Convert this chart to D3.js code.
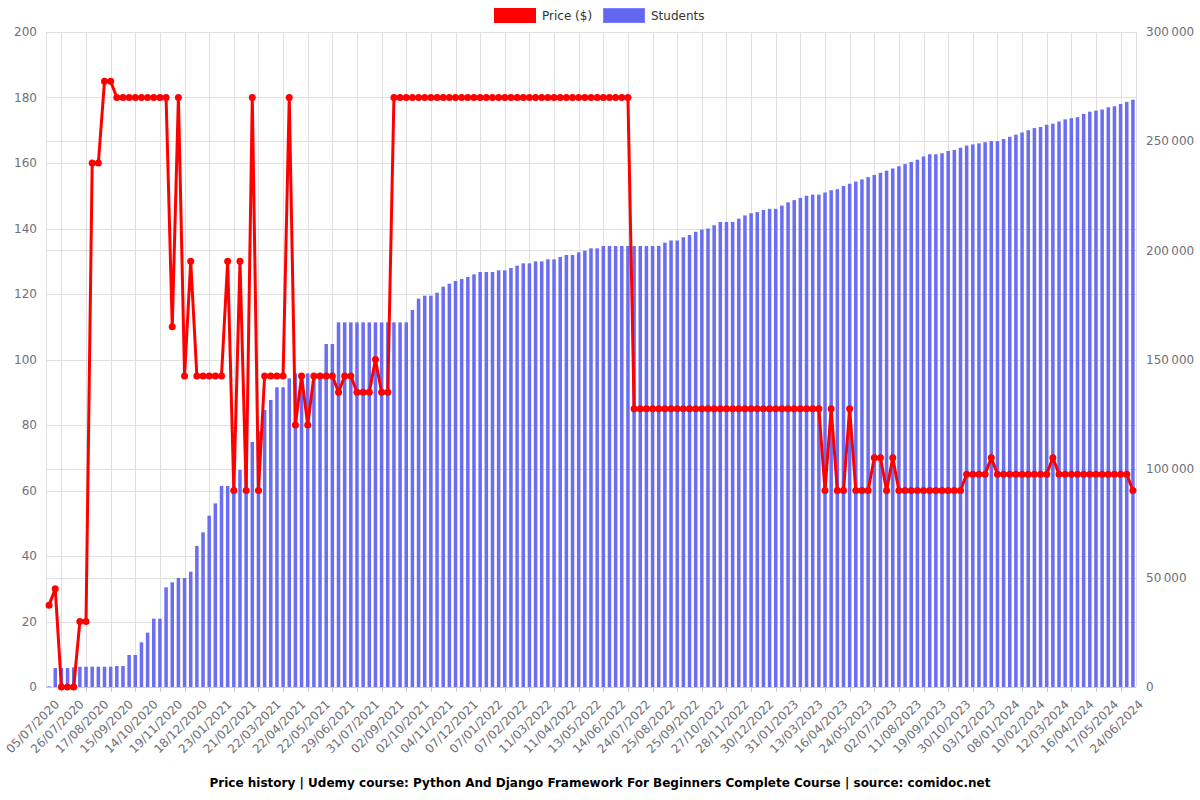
<!DOCTYPE html>
<html>
<head>
<meta charset="utf-8">
<script src="https://cdn.jsdelivr.net/npm/d3@7"></script>
<style>
  body { margin: 0; background: #fff; }
  svg { font-family: "DejaVu Sans", sans-serif; }
</style>
</head>
<body>
<div class="container"></div>
<script>
// one label every 4 categories (177 categories in total)
const tickLabels = [
  '05/07/2020', '26/07/2020', '17/08/2020', '15/09/2020', '14/10/2020', '19/11/2020',
  '18/12/2020', '23/01/2021', '21/02/2021', '22/03/2021', '22/04/2021', '22/05/2021',
  '29/06/2021', '31/07/2021', '02/09/2021', '02/10/2021', '04/11/2021', '07/12/2021',
  '07/01/2022', '07/02/2022', '11/03/2022', '11/04/2022', '13/05/2022', '14/06/2022',
  '24/07/2022', '25/08/2022', '25/09/2022', '27/10/2022', '28/11/2022', '30/12/2022',
  '31/01/2023', '13/03/2023', '16/04/2023', '24/05/2023', '02/07/2023', '11/08/2023',
  '19/09/2023', '30/10/2023', '03/12/2023', '08/01/2024', '10/02/2024', '12/03/2024',
  '16/04/2024', '17/05/2024', '24/06/2024'
];

const price = [
  25, 30, 0, 0, 0, 20, 20, 160, 160, 185,
  185, 180, 180, 180, 180, 180, 180, 180, 180, 180,
  110, 180, 95, 130, 95, 95, 95, 95, 95, 130,
  60, 130, 60, 180, 60, 95, 95, 95, 95, 180,
  80, 95, 80, 95, 95, 95, 95, 90, 95, 95,
  90, 90, 90, 100, 90, 90, 180, 180, 180, 180,
  180, 180, 180, 180, 180, 180, 180, 180, 180, 180,
  180, 180, 180, 180, 180, 180, 180, 180, 180, 180,
  180, 180, 180, 180, 180, 180, 180, 180, 180, 180,
  180, 180, 180, 180, 180, 85, 85, 85, 85, 85,
  85, 85, 85, 85, 85, 85, 85, 85, 85, 85,
  85, 85, 85, 85, 85, 85, 85, 85, 85, 85,
  85, 85, 85, 85, 85, 85, 60, 85, 60, 60,
  85, 60, 60, 60, 70, 70, 60, 70, 60, 60,
  60, 60, 60, 60, 60, 60, 60, 60, 60, 65,
  65, 65, 65, 70, 65, 65, 65, 65, 65, 65,
  65, 65, 65, 70, 65, 65, 65, 65, 65, 65,
  65, 65, 65, 65, 65, 65, 60
];

const students = [
  300, 8700, 8700, 8700, 9000, 9300, 9300, 9300, 9300, 9300,
  9300, 9600, 9600, 14650, 14650, 20450, 24900, 31300, 31300, 45650,
  47950, 49900, 49900, 52830, 64600, 70840, 78470, 84100, 92060, 92060,
  92060, 99390, 99390, 112200, 117100, 126900, 131450, 137250, 137250, 141370,
  143660, 143660, 143660, 143660, 143660, 157100, 157100, 167000, 167000, 167000,
  167000, 167000, 167000, 167000, 167000, 167000, 167000, 167000, 167000, 172670,
  177860, 179230, 179230, 180600, 183350, 184720, 185950, 186860, 187780, 189010,
  190070, 190070, 190070, 190830, 190830, 191900, 192970, 194030, 194030, 194950,
  194950, 195870, 195870, 196940, 197860, 197860, 199080, 199840, 200910, 200910,
  201980, 201980, 201980, 201980, 201980, 201980, 201980, 201980, 202000, 202000,
  203500, 204500, 204500, 206000, 207000, 208500, 209500, 210000, 211500, 213000,
  213000, 213000, 214500, 216000, 217000, 217500, 218500, 219000, 219000, 220500,
  222000, 223000, 224000, 225000, 225500, 225500, 226500, 227500, 228000, 229500,
  230500, 231500, 232500, 233500, 234500, 235500, 236500, 237500, 238500, 239500,
  240500, 241500, 243000, 244000, 244000, 244500, 245500, 246000, 247000, 248000,
  248500, 249000, 249500, 250000, 250000, 251000, 252000, 253000, 254000, 255000,
  256000, 256500, 257500, 258000, 259000, 260000, 260500, 261000, 262500, 263500,
  264000, 264500, 265500, 266000, 267000, 268000, 269000
];

const priceTicks = [0, 20, 40, 60, 80, 100, 120, 140, 160, 180, 200];
const studentTicks = [0, 50000, 100000, 150000, 200000, 250000, 300000];

const width = 1200;
const height = 800;
const margin = { top: 32, right: 64, bottom: 113, left: 46 };
const grey = '#e0e0e0';
const textColor = '#6e7079';

const svg = d3
  .select('.container')
  .append('svg')
  .attr('width', width)
  .attr('height', height);

const idx = d3.range(price.length);

const x = d3
  .scaleBand()
  .domain(idx)
  .range([margin.left, width - margin.right])
  .paddingInner(0.43)
  .paddingOuter(0.215);
const cx = (i) => x(i) + x.bandwidth() / 2;

const yPrice = d3.scaleLinear().domain([0, 200]).range([height - margin.bottom, margin.top]);
const yStudents = d3.scaleLinear().domain([0, 300000]).range([height - margin.bottom, margin.top]);

const fmt = d3.formatLocale({ decimal: '.', thousands: '\u202f', grouping: [3], currency: ['', ''] }).format(',d');

// grid
const grid = svg.append('g').attr('class', 'grid');
grid
  .selectAll('line.h1')
  .data(priceTicks)
  .join('line')
  .attr('x1', margin.left)
  .attr('x2', width - margin.right)
  .attr('y1', (d) => Math.round(yPrice(d)) + 0.5)
  .attr('y2', (d) => Math.round(yPrice(d)) + 0.5)
  .attr('stroke', grey);
grid
  .selectAll('line.h2')
  .data(studentTicks)
  .join('line')
  .attr('x1', margin.left)
  .attr('x2', width - margin.right)
  .attr('y1', (d) => Math.round(yStudents(d)) + 0.5)
  .attr('y2', (d) => Math.round(yStudents(d)) + 0.5)
  .attr('stroke', grey);

const gridIdx = idx.filter((i) => i % 4 === 2);
grid
  .selectAll('line.v')
  .data(gridIdx)
  .join('line')
  .attr('x1', (d) => Math.round(cx(d)) + 0.5)
  .attr('x2', (d) => Math.round(cx(d)) + 0.5)
  .attr('y1', margin.top)
  .attr('y2', height - margin.bottom)
  .attr('stroke', grey);
[margin.left, width - margin.right].forEach((px) => {
  grid
    .append('line')
    .attr('x1', px + 0.5)
    .attr('x2', px + 0.5)
    .attr('y1', margin.top)
    .attr('y2', height - margin.bottom)
    .attr('stroke', grey);
});

// bars
svg
  .append('g')
  .attr('class', 'bars')
  .selectAll('rect')
  .data(students)
  .join('rect')
  .attr('x', (d, i) => x(i))
  .attr('width', x.bandwidth())
  .attr('y', (d) => yStudents(d))
  .attr('height', (d) => yStudents(0) - yStudents(d))
  .attr('fill', '#6366f1')
  .attr('fill-opacity', 0.95);

// x axis
const xAxis = svg
  .append('g')
  .attr('transform', `translate(0, ${height - margin.bottom})`);
xAxis
  .append('line')
  .attr('x1', margin.left)
  .attr('x2', width - margin.right)
  .attr('y1', 0.5)
  .attr('y2', 0.5)
  .attr('stroke', '#ccc');
xAxis
  .selectAll('line.tick')
  .data(gridIdx)
  .join('line')
  .attr('x1', (d) => Math.round(cx(d)) + 0.5)
  .attr('x2', (d) => Math.round(cx(d)) + 0.5)
  .attr('y1', 0)
  .attr('y2', 5)
  .attr('stroke', '#ccc');
xAxis
  .selectAll('text')
  .data(idx.filter((i) => i % 4 === 0))
  .join('text')
  .attr('transform', (d) => `translate(${cx(d) + 8}, 15) rotate(-45)`)
  .attr('text-anchor', 'end')
  .attr('dy', '0.35em')
  .attr('font-size', 12)
  .attr('fill', textColor)
  .text((d) => tickLabels[d / 4]);

// y axes
svg
  .append('g')
  .selectAll('text')
  .data(priceTicks)
  .join('text')
  .attr('x', margin.left - 9)
  .attr('y', (d) => yPrice(d))
  .attr('dy', '0.35em')
  .attr('text-anchor', 'end')
  .attr('font-size', 12)
  .attr('fill', textColor)
  .text((d) => d);

svg
  .append('g')
  .selectAll('text')
  .data(studentTicks)
  .join('text')
  .attr('x', width - margin.right + 10)
  .attr('y', (d) => yStudents(d))
  .attr('dy', '0.35em')
  .attr('font-size', 12)
  .attr('fill', textColor)
  .text((d) => fmt(d));

// price line
const line = d3
  .line()
  .x((d, i) => cx(i))
  .y((d) => yPrice(d));

svg
  .append('path')
  .datum(price)
  .attr('fill', 'none')
  .attr('stroke', '#ff0000')
  .attr('stroke-width', 3)
  .attr('stroke-linejoin', 'miter')
  .attr('d', line);

svg
  .append('g')
  .selectAll('circle')
  .data(price)
  .join('circle')
  .attr('cx', (d, i) => cx(i))
  .attr('cy', (d) => yPrice(d))
  .attr('r', 3.5)
  .attr('fill', '#ff0000');

// legend
const legend = svg.append('g').attr('class', 'legend');
const legendItems = [
  { name: 'Price ($)', color: '#ff0000', x: 494 },
  { name: 'Students', color: '#6366f1', x: 603 }
];
legendItems.forEach((it) => {
  legend
    .append('rect')
    .attr('x', it.x + 0.5)
    .attr('y', 8.5)
    .attr('width', 41)
    .attr('height', 14)
    .attr('fill', it.color)
    .attr('stroke', d3.color(it.color).brighter(0.6))
    .attr('stroke-width', 1);
  legend
    .append('text')
    .attr('x', it.x + 48)
    .attr('y', 16)
    .attr('dy', '0.35em')
    .attr('font-size', 12)
    .attr('fill', '#333')
    .text(it.name);
});

// title
svg
  .append('text')
  .attr('x', width / 2)
  .attr('y', 783)
  .attr('dy', '0.35em')
  .attr('text-anchor', 'middle')
  .attr('font-size', 12)
  .attr('font-weight', 'bold')
  .attr('fill', '#000')
  .text('Price history | Udemy course: Python And Django Framework For Beginners Complete Course | source: comidoc.net');
</script>
</body>
</html>
